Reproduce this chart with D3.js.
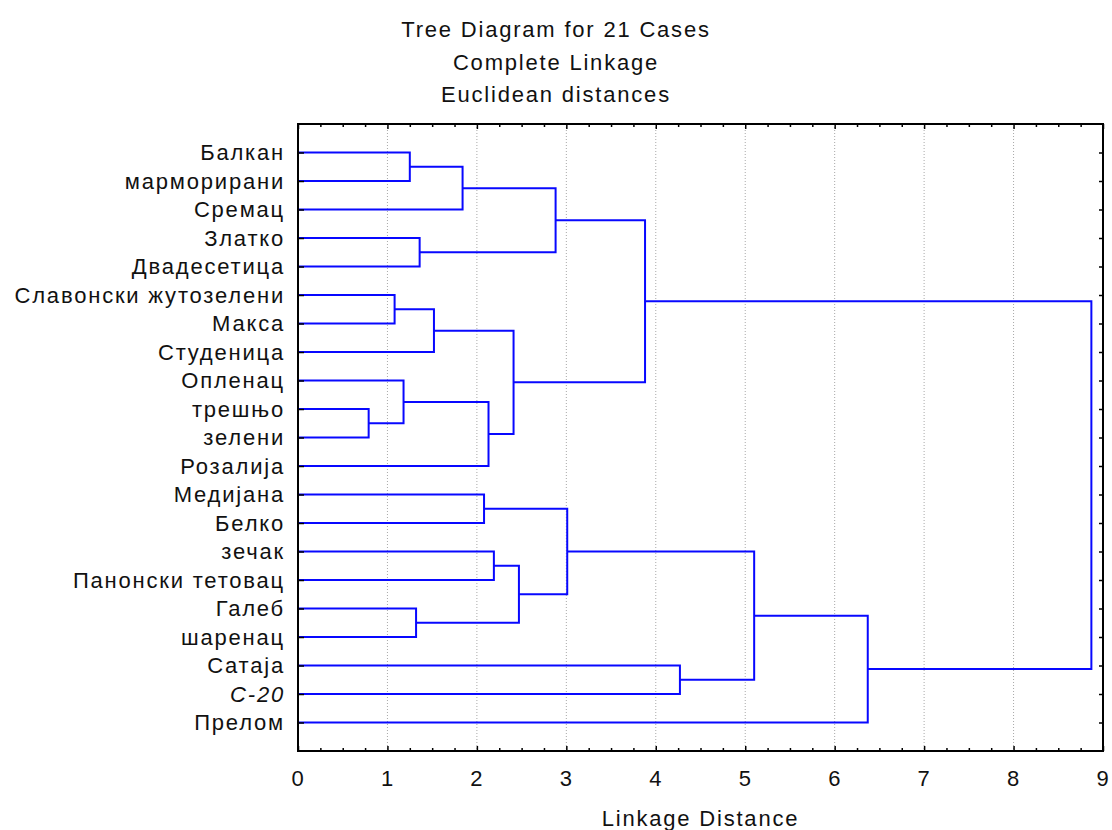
<!DOCTYPE html>
<html>
<head>
<meta charset="utf-8">
<script src="https://cdn.jsdelivr.net/npm/d3@7"></script>
<style>
  html, body { margin: 0; padding: 0; background: #fff; }
  svg text { font-family: "Liberation Sans", Arial, sans-serif; fill: #111; }
</style>
</head>
<body>
<svg id="chart"></svg>
<script>
// leaf order as listed top to bottom
const leaves = [
  'Балкан', 'марморирани', 'Сремац', 'Златко', 'Двадесетица',
  'Славонски жутозелени', 'Макса', 'Студеница', 'Опленац', 'трешњо',
  'зелени', 'Розалија', 'Медијана', 'Белко', 'зечак',
  'Панонски тетовац', 'Галеб', 'шаренац', 'Сатаја', 'C-20', 'Прелом'
];
const italicLeaves = ['C-20'];

// merge steps: [left, right, distance]; ids 0..20 are leaves, 21+ are clusters in order
const merges = [
  [9, 10, 0.79],   // 21
  [5, 6, 1.08],    // 22
  [8, 21, 1.18],   // 23
  [0, 1, 1.25],    // 24
  [16, 17, 1.32],  // 25
  [3, 4, 1.36],    // 26
  [22, 7, 1.52],   // 27
  [24, 2, 1.84],   // 28
  [12, 13, 2.08],  // 29
  [23, 11, 2.13],  // 30
  [14, 15, 2.19],  // 31
  [27, 30, 2.41],  // 32
  [31, 25, 2.47],  // 33
  [28, 26, 2.88],  // 34
  [29, 33, 3.01],  // 35
  [34, 32, 3.88],  // 36
  [18, 19, 4.27],  // 37
  [35, 37, 5.10],  // 38
  [38, 20, 6.37],  // 39
  [36, 39, 8.87]   // 40
];

const titleLines = ['Tree Diagram for 21 Cases', 'Complete Linkage', 'Euclidean distances'];
const xTicks = [0, 1, 2, 3, 4, 5, 6, 7, 8, 9];
const xTitle = 'Linkage Distance';

const width = 1112;
const height = 830;
const plot = { left: 298, right: 1103, top: 124, bottom: 751 };
const fontSize = 22;
const spacing = 1.8;

const svg = d3.select('#chart')
  .attr('width', width)
  .attr('height', height);

svg.append('rect').attr('width', width).attr('height', height).attr('fill', '#fff');

const x = d3.scaleLinear().domain([0, 9]).range([plot.left, plot.right]);
const y = d3.scalePoint().domain(leaves).range([plot.top, plot.bottom]).padding(1);

// build the tree from the merge list
const nodes = leaves.map(name => ({ name, height: 0 }));
merges.forEach(([a, b, h]) => {
  nodes.push({ height: h, children: [nodes[a], nodes[b]] });
});
const root = d3.hierarchy(nodes[nodes.length - 1]);

root.eachAfter(d => {
  d.px = x(d.data.height);
  d.py = d.children ? d3.mean(d.children, c => c.py) : y(d.data.name);
});

// grid
svg.append('g')
  .selectAll('line')
  .data(xTicks.slice(1, -1))
  .join('line')
  .attr('x1', d => x(d)).attr('x2', d => x(d))
  .attr('y1', plot.top).attr('y2', plot.bottom)
  .attr('stroke', '#a8a8a8')
  .attr('stroke-width', 1)
  .attr('stroke-dasharray', '1,2');

// dendrogram elbows
const links = root.descendants().filter(d => d.children);
svg.append('g')
  .selectAll('path')
  .data(links)
  .join('path')
  .attr('fill', 'none')
  .attr('stroke', '#0808ff')
  .attr('stroke-width', 2)
  .attr('d', d => {
    const [c1, c2] = d.children;
    return `M${c1.px},${c1.py}H${d.px}V${c2.py}H${c2.px}`;
  });

// axes
const minorTicks = d3.range(0, 9.001, 0.25).filter(v => Math.abs(v - Math.round(v)) > 1e-6);

function styleAxis(g) {
  g.select('.domain').remove();
  g.selectAll('.tick line').attr('stroke', '#000').attr('stroke-width', 1.5);
  g.selectAll('.tick text')
    .attr('font-size', fontSize)
    .attr('letter-spacing', spacing)
    .attr('fill', '#111')
    .attr('font-family', '"Liberation Sans", Arial, sans-serif');
}

svg.append('g')
  .attr('transform', `translate(0,${plot.bottom})`)
  .call(d3.axisBottom(x).tickValues(xTicks).tickFormat(d3.format('d')).tickSize(-5).tickPadding(19))
  .call(styleAxis);

svg.append('g')
  .attr('transform', `translate(0,${plot.bottom})`)
  .call(d3.axisBottom(x).tickValues(minorTicks).tickFormat('').tickSize(-3))
  .call(styleAxis);

svg.append('g')
  .attr('transform', `translate(0,${plot.top})`)
  .call(d3.axisTop(x).tickValues(xTicks).tickFormat('').tickSize(-5))
  .call(styleAxis);

svg.append('g')
  .attr('transform', `translate(0,${plot.top})`)
  .call(d3.axisTop(x).tickValues(minorTicks).tickFormat('').tickSize(-3))
  .call(styleAxis);

svg.append('g')
  .attr('transform', `translate(${plot.left},0)`)
  .call(d3.axisLeft(y).tickSize(-6).tickPadding(13))
  .call(styleAxis)
  .call(g => g.selectAll('.tick text')
    .attr('font-style', d => italicLeaves.includes(d) ? 'italic' : null));

svg.append('g')
  .attr('transform', `translate(${plot.right},0)`)
  .call(d3.axisRight(y).tickSize(-4).tickFormat(''))
  .call(styleAxis);

// frame
svg.append('rect')
  .attr('x', plot.left)
  .attr('y', plot.top)
  .attr('width', plot.right - plot.left)
  .attr('height', plot.bottom - plot.top)
  .attr('fill', 'none')
  .attr('stroke', '#000')
  .attr('stroke-width', 2);

// titles
svg.append('g')
  .selectAll('text')
  .data(titleLines)
  .join('text')
  .attr('x', width / 2)
  .attr('y', (d, i) => 37 + i * 32.5)
  .attr('text-anchor', 'middle')
  .attr('font-size', fontSize)
  .attr('letter-spacing', spacing)
  .text(d => d);

svg.append('text')
  .attr('x', (plot.left + plot.right) / 2)
  .attr('y', 826)
  .attr('text-anchor', 'middle')
  .attr('font-size', fontSize)
  .attr('letter-spacing', spacing)
  .text(xTitle);
</script>
</body>
</html>
